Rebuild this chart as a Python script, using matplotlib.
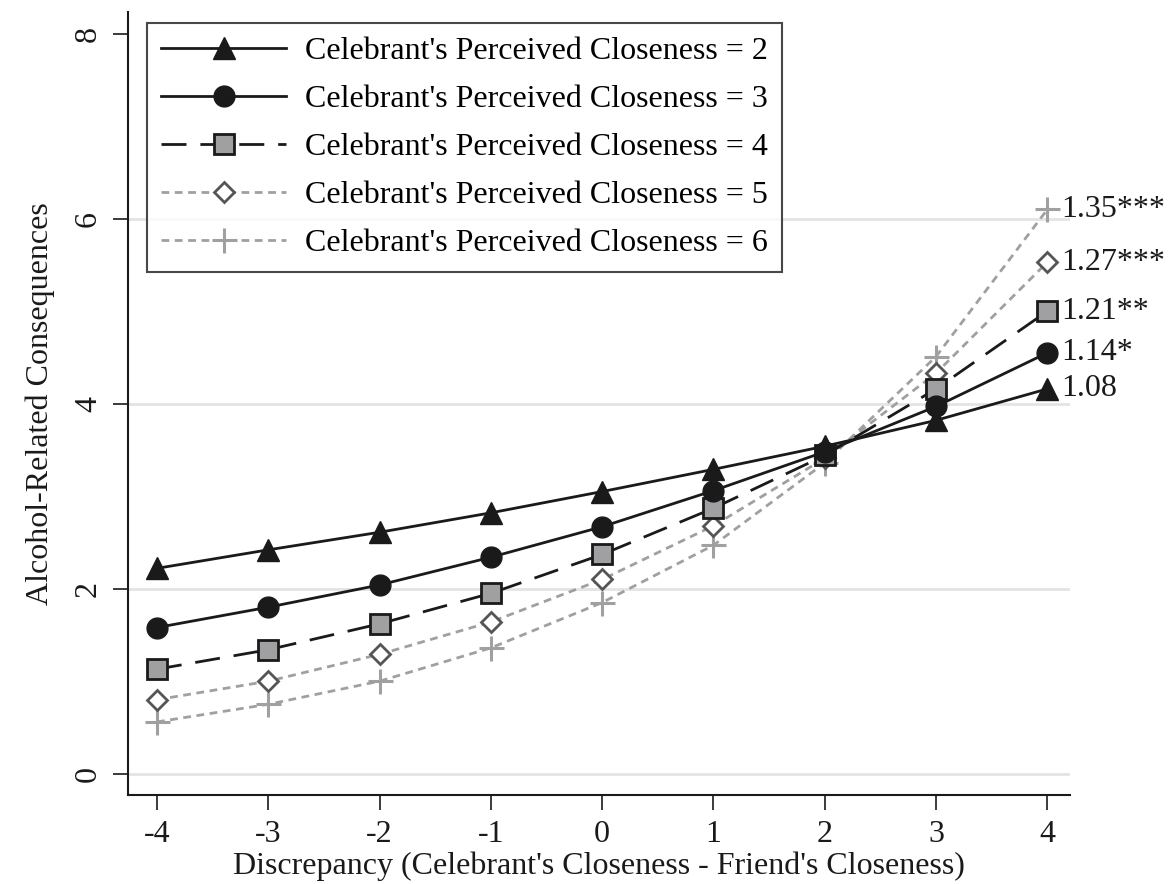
import matplotlib
matplotlib.use('Agg')
import matplotlib.pyplot as plt
import numpy as np

plt.rcParams['font.family'] = ['Liberation Serif', 'DejaVu Serif']

# discrepancy values on the x axis
disc = [-4, -3, -2, -1, 0, 1, 2, 3, 4]

# predicted consequences per level of perceived closeness
close2 = [2.22, 2.42, 2.61, 2.82, 3.05, 3.29, 3.54, 3.82, 4.16]
close3 = [1.58, 1.80, 2.04, 2.34, 2.67, 3.06, 3.48, 3.97, 4.55]
close4 = [1.13, 1.34, 1.62, 1.95, 2.37, 2.87, 3.44, 4.16, 5.00]
close5 = [0.80, 1.00, 1.29, 1.64, 2.10, 2.68, 3.41, 4.33, 5.53]
close6 = [0.56, 0.75, 1.00, 1.36, 1.85, 2.47, 3.36, 4.51, 6.10]

labels = ["Celebrant's Perceived Closeness = 2",
          "Celebrant's Perceived Closeness = 3",
          "Celebrant's Perceived Closeness = 4",
          "Celebrant's Perceived Closeness = 5",
          "Celebrant's Perceived Closeness = 6"]
slopes = ['1.08', '1.14*', '1.21**', '1.27***', '1.35***']

fs = 23

fig = plt.figure(figsize=(11.69, 8.84), dpi=100)
ax = fig.add_axes([0.1095, 0.1007, 0.8055, 0.8853])

dark = '#1a1a1a'
grey = '#a0a0a0'

styles = [
    dict(color=dark, ls='-', marker='^', ms=16, mfc=dark, mec=dark),
    dict(color=dark, ls='-', marker='o', ms=15, mfc=dark, mec=dark),
    dict(color=dark, ls=(0, (9, 5)), marker='s', ms=14, mfc='#a0a0a2', mec=dark, mew=2),
    dict(color=grey, ls=(0, (2.8, 2)), marker='D', ms=10, mfc='white', mec='#555555', mew=2),
    dict(color=grey, ls=(0, (2.8, 2)), marker='+', ms=18, mfc=grey, mec=grey, mew=2.2),
]
series = [close2, close3, close4, close5, close6]

for i, (y, st) in enumerate(zip(series, styles)):
    ax.plot(disc, y, lw=2, label=labels[i], zorder=3 + (5 - i) * 0.1, **st)
    ax.annotate(slopes[i], xy=(disc[-1], y[-1]), xytext=(10, 0),
                textcoords='offset points', ha='left', va='center',
                fontsize=fs, color=dark, annotation_clip=False)

for g in [0, 2, 4, 6]:
    ax.axhline(g, color='#e4e4e4', lw=2, zorder=0)

ax.set_xlim(-4.26, 4.2)
ax.set_ylim(-0.23, 8.23)
ax.set_xticks(disc)
ax.set_xticklabels([str(d) for d in disc])
ax.set_yticks([0, 2, 4, 6, 8])
ax.tick_params(axis='both', direction='out', length=11, width=1.2, labelsize=fs,
               colors=dark, pad=7)
for t in ax.get_yticklabels():
    t.set_rotation(90)
    t.set_va('center')

for s in ['top', 'right']:
    ax.spines[s].set_visible(False)
for s in ['left', 'bottom']:
    ax.spines[s].set_linewidth(1.5)
    ax.spines[s].set_color(dark)

ax.set_xlabel("Discrepancy (Celebrant's Closeness - Friend's Closeness)", fontsize=fs,
              color=dark, labelpad=2)
ax.set_ylabel('Alcohol-Related Consequences', fontsize=fs, color=dark, labelpad=14)

leg = ax.legend(loc='upper left', bbox_to_anchor=(0.02, 0.987), fontsize=fs,
                handlelength=3.9, frameon=True, fancybox=False, edgecolor=dark,
                borderpad=0.45, labelspacing=0.58, handletextpad=0.6, borderaxespad=0)
leg.get_frame().set_linewidth(1.5)

fig.savefig('out.png', dpi=100)
